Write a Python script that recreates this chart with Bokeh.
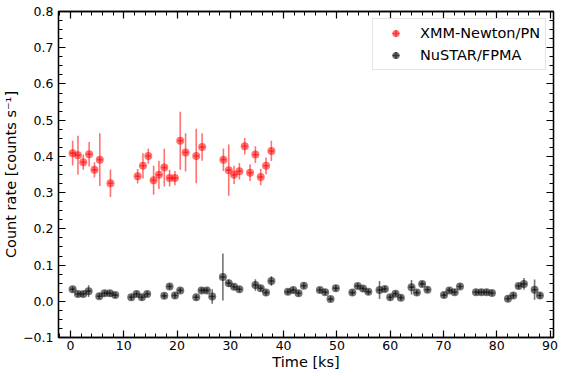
from bokeh.plotting import figure
from bokeh.models import (LinearAxis, Range1d, Legend, LegendItem, ColumnDataSource,
                          CustomJSTickFormatter, SingleIntervalTicker)
from bokeh.embed import file_html
from bokeh.resources import INLINE

# XMM-Newton/PN light curve
red_t = [0.4, 1.4, 2.4, 3.5, 4.5, 5.5, 7.5, 12.6, 13.6, 14.6, 15.6, 16.6, 17.6, 18.6, 19.6,
         20.6, 21.6, 23.6, 24.7, 28.7, 29.7, 30.7, 31.7, 32.7, 33.7, 34.7, 35.7, 36.7, 37.7]
red_rate = [0.409, 0.403, 0.384, 0.406, 0.363, 0.391, 0.326, 0.345, 0.374, 0.401, 0.334, 0.349,
            0.369, 0.340, 0.340, 0.443, 0.411, 0.401, 0.426, 0.391, 0.362, 0.349, 0.359, 0.428,
            0.355, 0.405, 0.343, 0.374, 0.415]
red_err = [0.034, 0.054, 0.021, 0.034, 0.021, 0.073, 0.038, 0.020, 0.035, 0.021, 0.040, 0.039,
           0.052, 0.023, 0.020, 0.080, 0.053, 0.075, 0.038, 0.031, 0.071, 0.025, 0.023, 0.023,
           0.023, 0.023, 0.023, 0.023, 0.028]

# NuSTAR/FPMA light curve
blk_t = [0.4, 1.4, 2.4, 3.4, 5.4, 6.4, 7.4, 8.4, 11.4, 12.4, 13.4, 14.4, 17.6, 18.6, 19.6, 20.6,
         23.6, 24.6, 25.6, 26.6, 28.6, 29.7, 30.7, 31.7, 34.7, 35.7, 36.7, 37.7,
         40.8, 41.8, 42.8, 43.8, 46.8, 47.8, 48.8, 49.8, 52.9, 53.9, 54.9, 55.9,
         58.0, 59.0, 60.0, 61.0, 62.0, 64.0, 65.0, 66.0, 67.0, 70.1, 71.1, 72.1, 73.1,
         76.1, 77.1, 78.1, 79.1, 82.1, 83.1, 84.1, 85.1, 87.1, 88.1]
blk_rate = [0.033, 0.020, 0.020, 0.028, 0.014, 0.022, 0.022, 0.017, 0.011, 0.020, 0.011, 0.020,
            0.015, 0.041, 0.016, 0.030, 0.011, 0.030, 0.030, 0.013, 0.067, 0.050, 0.040, 0.033,
            0.045, 0.036, 0.024, 0.056, 0.026, 0.031, 0.022, 0.043, 0.031, 0.025, 0.006, 0.036,
            0.024, 0.042, 0.035, 0.026, 0.031, 0.034, 0.011, 0.021, 0.010, 0.039, 0.024, 0.048,
            0.032, 0.017, 0.030, 0.025, 0.041, 0.025, 0.025, 0.025, 0.023, 0.007, 0.016, 0.042,
            0.048, 0.032, 0.016]
blk_err = [0.008, 0.008, 0.008, 0.016, 0.008, 0.008, 0.008, 0.008, 0.008, 0.008, 0.008, 0.008,
           0.008, 0.008, 0.008, 0.008, 0.008, 0.008, 0.008, 0.020, 0.065, 0.010, 0.008, 0.008,
           0.016, 0.008, 0.008, 0.013, 0.008, 0.008, 0.008, 0.008, 0.008, 0.008, 0.008, 0.008,
           0.008, 0.008, 0.008, 0.008, 0.025, 0.008, 0.008, 0.008, 0.008, 0.020, 0.008, 0.008,
           0.008, 0.008, 0.008, 0.008, 0.008, 0.008, 0.008, 0.008, 0.008, 0.008, 0.008, 0.008,
           0.016, 0.028, 0.008]
bin_half = 0.5

FONT = "DejaVu Sans"

p = figure(width=567, height=376, output_backend="svg", toolbar_location=None,
           x_range=Range1d(-2.25, 90.65), y_range=Range1d(-0.1, 0.8),
           min_border_left=58, min_border_right=14, min_border_top=11, min_border_bottom=39)
p.xgrid.visible = False
p.ygrid.visible = False
p.outline_line_color = "black"
p.outline_line_width = 1.3
# off-screen range used only so the legend can draw its error-bar crosses
p.extra_y_ranges = {"legend_only": Range1d(100, 101)}

def src(t, r, e):
    return ColumnDataSource(dict(
        t=t, r=r,
        t0=[v - bin_half for v in t], t1=[v + bin_half for v in t],
        r0=[a - b for a, b in zip(r, e)], r1=[a + b for a, b in zip(r, e)]))

items = []
for t, r, e, col, lab in [(red_t, red_rate, red_err, "red", "XMM-Newton/PN"),
                          (blk_t, blk_rate, blk_err, "black", "NuSTAR/FPMA")]:
    s = src(t, r, e)
    p.segment(x0="t", x1="t", y0="r0", y1="r1", source=s, line_color=col, line_alpha=0.55, line_width=1.6)
    p.segment(x0="t0", x1="t1", y0="r", y1="r", source=s, line_color=col, line_alpha=0.55, line_width=1.6)
    c = p.scatter("t", "r", source=s, size=8, marker="circle", fill_color=col, fill_alpha=0.55,
                  line_color=None)
    x = p.scatter("t", "r", source=s, marker="cross", size=12, line_color=col, line_alpha=0.55,
                  line_width=1.6, y_range_name="legend_only")
    items.append(LegendItem(label=lab, renderers=[c, x]))

legend = Legend(items=items, location="top_right", margin=7, padding=5, spacing=4,
                label_height=18, glyph_height=18, glyph_width=35, label_standoff=7,
                label_text_font=FONT, label_text_font_size="14.5px", label_text_color="black",
                border_line_color="#cccccc", border_line_width=1,
                background_fill_alpha=0.8)
p.add_layout(legend, "center")

xt = SingleIntervalTicker(interval=10, num_minor_ticks=5)
yt = SingleIntervalTicker(interval=0.1, num_minor_ticks=4)
fmt = CustomJSTickFormatter(code="""
if (Math.abs(tick) < 1e-9) return '0.0';
return tick.toFixed(1).replace('-', '\u2212');
""")
blank = CustomJSTickFormatter(code="return '';")

def style(ax):
    ax.major_tick_in = 7
    ax.major_tick_out = 0
    ax.minor_tick_in = 4
    ax.minor_tick_out = 0
    ax.axis_line_width = 1.3
    ax.axis_line_color = "black"
    ax.major_tick_line_color = "black"
    ax.minor_tick_line_color = "black"
    ax.major_tick_line_width = 1.2
    ax.minor_tick_line_width = 1.0
    ax.major_label_text_font = FONT
    ax.major_label_text_font_size = "12.5px"
    ax.major_label_text_color = "black"
    ax.axis_label_text_font = FONT
    ax.axis_label_text_font_size = "14.5px"
    ax.axis_label_text_font_style = "normal"
    ax.axis_label_text_color = "black"

p.xaxis.ticker = xt
p.yaxis.ticker = yt
p.yaxis.formatter = fmt
p.xaxis.axis_label = "Time [ks]"
p.yaxis.axis_label = "Count rate [counts s\u207b\u00b9]"
style(p.xaxis[0])
style(p.yaxis[0])
p.xaxis.major_label_standoff = 3
p.yaxis.major_label_standoff = 5
p.xaxis.axis_label_standoff = 1
p.yaxis.axis_label_standoff = 1

top = LinearAxis(ticker=xt, formatter=blank, major_label_standoff=0)
right = LinearAxis(ticker=yt, formatter=blank, major_label_standoff=0)
style(top)
style(right)
p.add_layout(top, "above")
p.add_layout(right, "right")

open("out.html", "w").write(file_html(p, INLINE))
